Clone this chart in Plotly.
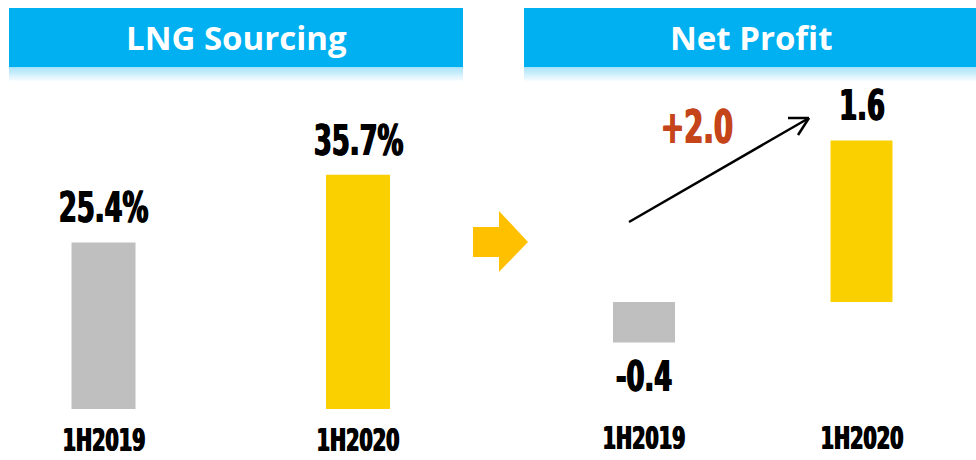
import plotly.graph_objects as go

# ---- data ----
categories = ["1H2019", "1H2020"]
lng_share = [25.4, 35.7]
lng_labels = ["25.4%", "35.7%"]
net_profit = [-0.4, 1.6]
profit_labels = ["-0.4", "1.6"]
change_label = "+2.0"
titles = ["LNG Sourcing", "Net Profit"]
bar_colors = ["#BFBFBF", "#FAD000"]

W, H = 976, 460
NUM_FONT = "DejaVu Sans, sans-serif"
TITLE_FONT = "Open Sans, Noto Sans, sans-serif"
thick = "0.9px 0 0 #000, -0.9px 0 0 #000"

fig = go.Figure()

fig.add_trace(go.Bar(x=categories, y=lng_share, marker=dict(color=bar_colors, line=dict(width=0)),
                     width=0.2515, xaxis="x", yaxis="y", hoverinfo="skip"))
fig.add_trace(go.Bar(x=categories, y=net_profit, marker=dict(color=bar_colors, line=dict(width=0)),
                     width=0.285, xaxis="x2", yaxis="y2", hoverinfo="skip"))

def px(x):
    return x / W

def py(y):
    return 1 - y / H

shapes = []
annotations = []

# banners
for (x0, x1) in [(9, 463), (524, 976)]:
    shapes.append(dict(type="rect", xref="paper", yref="paper", x0=px(x0), x1=px(x1),
                       y0=py(67), y1=py(8), fillcolor="#00B0F0", line=dict(width=0), layer="below"))
    n = 12
    for i in range(n):
        op = 0.35 * (1 - i / n)
        shapes.append(dict(type="rect", xref="paper", yref="paper", x0=px(x0), x1=px(x1),
                           y0=py(67 + (i + 1) * 1.2), y1=py(67 + i * 1.2), fillcolor="#00B0F0",
                           opacity=op, line=dict(width=0), layer="below"))

for t, cx in zip(titles, [236, 751]):
    annotations.append(dict(text=f"<b>{t}</b>", xref="paper", yref="paper", x=px(cx), y=py(38),
                            xanchor="center", yanchor="middle", showarrow=False,
                            font=dict(family=TITLE_FONT, size=33, color="white")))

# orange block arrow
pts = [(473, 227), (499, 227), (499, 211), (528, 242), (499, 272), (499, 257), (473, 257)]
path = "M " + " L ".join(f"{px(a):.5f},{py(b):.5f}" for a, b in pts) + " Z"
shapes.append(dict(type="path", xref="paper", yref="paper", path=path, fillcolor="#FFC000",
                   line=dict(width=0)))

# trend arrow
for (a, b, c, d) in [(629, 222, 809, 118), (788, 118, 809, 118), (798, 135, 809, 118)]:
    shapes.append(dict(type="line", xref="paper", yref="paper", x0=px(a), y0=py(b), x1=px(c), y1=py(d),
                       line=dict(color="black", width=2.5)))

# value labels
for c, v, lab in zip(categories, lng_share, lng_labels):
    annotations.append(dict(text=lab, x=c, y=v, xref="x", yref="y", xanchor="center", yanchor="bottom",
                            yshift=8, showarrow=False,
                            font=dict(family=NUM_FONT, size=43, color="black", weight="bold", shadow=thick)))
for c, v, lab in zip(categories, net_profit, profit_labels):
    annotations.append(dict(text=lab, x=c, y=v, xref="x2", yref="y2", xanchor="center",
                            yanchor="bottom" if v >= 0 else "top",
                            yshift=8 if v >= 0 else -7, showarrow=False,
                            font=dict(family=NUM_FONT, size=43, color="black", weight="bold", shadow=thick)))

annotations.append(dict(text=change_label, xref="paper", yref="paper", x=px(697), y=py(127),
                        xanchor="center", yanchor="middle", showarrow=False,
                        font=dict(family=NUM_FONT, size=46, color="#C5441A", weight="bold",
                                  shadow="0.9px 0 0 #C5441A, -0.9px 0 0 #C5441A")))

# category labels
for c in categories:
    annotations.append(dict(text=c, x=c, xref="x", yref="paper", y=py(440), xanchor="center",
                            yanchor="middle", showarrow=False,
                            font=dict(family=NUM_FONT, size=32, color="black", weight="bold", shadow=thick)))
    annotations.append(dict(text=c, x=c, xref="x2", yref="paper", y=py(438), xanchor="center",
                            yanchor="middle", showarrow=False,
                            font=dict(family=NUM_FONT, size=32, color="black", weight="bold", shadow=thick)))

ax_common = dict(showgrid=False, zeroline=False, showticklabels=False, showline=False, ticks="",
                 fixedrange=True)

fig.update_layout(
    width=W, height=H, margin=dict(l=0, r=0, t=0, b=0),
    paper_bgcolor="white", plot_bgcolor="rgba(0,0,0,0)", showlegend=False,
    xaxis=dict(domain=[0, 1], range=[-103.5 / 254.5, (W - 103.5) / 254.5], type="category",
               categoryorder="array", categoryarray=categories, **ax_common),
    yaxis=dict(domain=[0, 1], range=[-(H - 409) / 6.56, 409 / 6.56], **ax_common),
    xaxis2=dict(domain=[0, 1], range=[-644 / 217.5, (W - 644) / 217.5], type="category",
                categoryorder="array", categoryarray=categories, anchor="y2", **ax_common),
    yaxis2=dict(domain=[0, 1], range=[-(H - 302) / 101.0, 302 / 101.0], anchor="x2", **ax_common),
    shapes=shapes, annotations=annotations,
)

post = """
document.body.style.margin='0px';
document.body.style.overflow='hidden';
function squeeze(){
  document.querySelectorAll('.annotation-text').forEach(function(t){
    if (/Sourcing|Profit/.test(t.textContent)) return;
    t.style.transformBox='fill-box';
    t.style.transformOrigin='center';
    t.style.transform='scaleX(0.6)';
  });
}
squeeze();
var gd = document.getElementById('{plot_id}');
if (gd && gd.on) { gd.on('plotly_afterplot', squeeze); }
"""

fig.write_html("out.html", config={"displayModeBar": False}, post_script=post)
